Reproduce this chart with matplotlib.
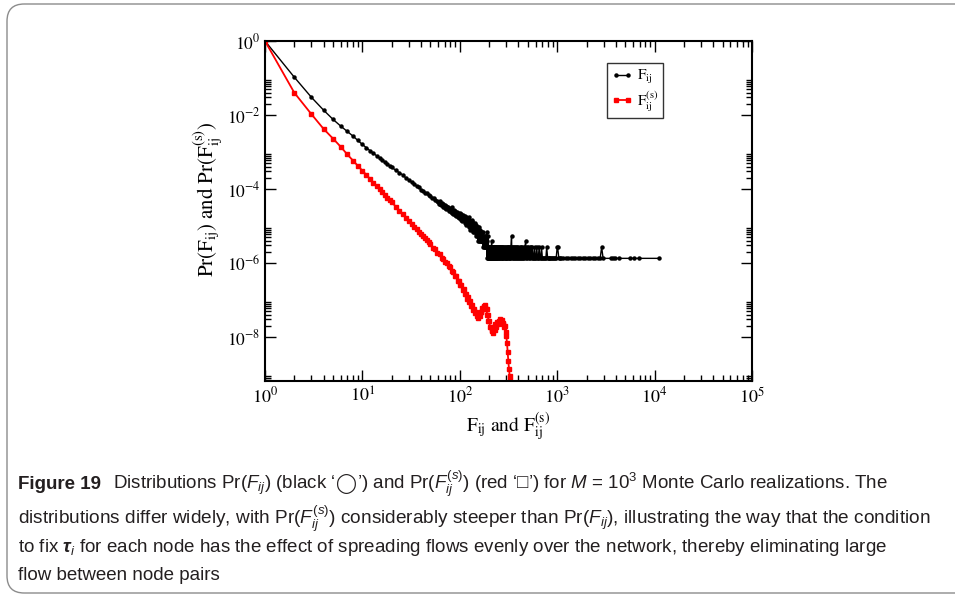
import matplotlib
matplotlib.use('Agg')
import matplotlib.pyplot as plt
from matplotlib.patches import FancyBboxPatch
from matplotlib.ticker import FixedLocator, NullFormatter

# ---- data ----
# black: Pr(F_ij), head part as probabilities
blk_x = [1, 2, 3, 4, 5, 6, 7, 8, 9, 10, 11, 12, 13, 14, 15, 16, 17, 18, 19,
         20, 22, 24, 26, 28, 30, 32, 34, 36, 38, 40, 42, 44, 46, 48, 50,
         52, 54, 56, 58]
blk_y = [1.0, 0.105, 0.030, 0.0135, 7.6e-3, 5.0e-3, 3.6e-3, 2.7e-3, 2.05e-3,
         1.6e-3, 1.3e-3, 1.08e-3, 9.2e-4, 7.9e-4, 6.9e-4, 6.0e-4, 5.3e-4,
         4.7e-4, 4.25e-4, 3.9e-4, 3.2e-4, 2.75e-4, 2.4e-4, 1.98e-4, 1.76e-4,
         1.52e-4, 1.39e-4, 1.2e-4, 1.11e-4, 9.7e-5, 9.1e-5, 8.0e-5, 7.6e-5,
         6.7e-5, 6.5e-5, 5.7e-5, 5.6e-5, 4.9e-5, 4.8e-5]

# black tail, counts per F (one count = unit probability)
unit_pr = 1.34e-6
tail_x = list(range(60, 201))
tail_counts = [33, 29, 35, 30, 27, 31, 28, 24, 29, 26,
               27, 23, 26, 22, 25, 21, 24, 19, 23, 20,
               22, 18, 21, 24, 17, 19, 16, 20, 18, 15,
               19, 16, 14, 18, 15, 17, 13, 16, 12, 15,
               17, 12, 14, 11, 16, 13, 10, 14, 12, 15,
               11, 13, 9, 14, 10, 12, 8, 13, 11, 9,
               12, 8, 10, 13, 7, 11, 9, 6, 10, 8,
               9, 7, 11, 6, 8, 10, 5, 9, 7, 6,
               8, 5, 9, 6, 7, 4, 8, 6, 5, 7,
               6, 4, 7, 5, 3, 6, 5, 4, 7, 3,
               5, 4, 3, 6, 3, 5, 4, 3, 5, 3,
               4, 3, 5, 3, 2, 4, 3, 2, 4, 3,
               3, 2, 4, 2, 3, 2, 4, 3, 2, 5,
               1, 2, 3, 1, 2, 1, 4, 2, 1, 2, 1]

floor_x = [202, 203, 204, 206, 207, 208, 209, 211, 212, 213, 214, 216, 217,
           218, 219, 221, 222, 223, 225, 226, 228, 229, 230, 232, 233, 235,
           236, 238, 240, 241, 243, 245, 246, 249, 251, 252, 255, 257, 259,
           261, 263, 266, 268, 270, 273, 274, 278, 280, 283, 286, 288, 292,
           295, 297, 300, 303, 306, 309, 312, 315, 318, 321, 325, 328, 331,
           335, 340, 342, 346, 350, 354, 358, 362, 367, 371, 376, 380, 385,
           390, 395, 400, 405, 411, 416, 422, 428, 434, 440, 446, 453, 460,
           466, 475, 480, 487, 495, 503, 511, 520, 528, 537, 546, 556, 565,
           575, 585, 595, 606, 617, 628, 640, 652, 665, 677, 690, 705, 720,
           734, 750, 765, 780, 798, 815, 833, 850, 870, 890, 910, 930, 952,
           975, 1000, 1010, 1040, 1070, 1100, 1160, 1230, 1300, 1370, 1450,
           1540, 1630, 1720, 1820, 1930, 2050, 2180, 2320, 2460, 2600, 2760,
           2860, 2960, 3550, 3750, 3950, 4300, 5600, 6100, 6900, 11100]
floor_counts = [2, 1, 2, 1, 2, 1, 2, 1, 3, 1, 2, 1, 2,
                1, 2, 1, 2, 1, 1, 2, 1, 2, 1, 2, 1, 2,
                1, 2, 1, 2, 1, 2, 1, 2, 1, 2, 1, 2, 1,
                2, 1, 2, 1, 2, 1, 2, 1, 2, 1, 2, 1, 2,
                1, 2, 1, 2, 1, 2, 1, 2, 1, 2, 1, 2, 1,
                2, 4, 1, 2, 1, 2, 1, 2, 1, 2, 1, 2, 1,
                2, 1, 2, 1, 2, 1, 2, 1, 2, 1, 1, 2, 1,
                2, 3, 1, 2, 1, 2, 1, 2, 1, 2, 1, 2, 1,
                1, 2, 1, 1, 2, 1, 1, 2, 1, 1, 2, 1, 1,
                1, 1, 1, 2, 1, 1, 1, 1, 1, 1, 1, 1, 1,
                1, 2, 2, 1, 1, 1, 1, 1, 1, 1, 1,
                1, 1, 1, 1, 1, 1, 1, 1, 1, 1, 1,
                2, 1, 1, 1, 1, 1, 1, 1, 1, 1]

# red: Pr(F_ij^(s))
red_x = [1, 2, 3, 4, 5, 6, 7, 8, 9, 10, 11, 12, 13, 14, 15, 16, 17, 18, 19,
         20, 22, 24, 26, 28, 30, 32, 34, 36, 38, 40, 42, 44, 46, 48, 50,
         53, 56, 59, 62, 65, 68, 71, 74, 77, 80, 83, 86, 89, 92, 95, 98,
         101, 104, 107, 110, 113, 116, 119, 122, 125, 128, 131, 134, 137,
         140, 143, 146, 149, 152, 155, 158, 161, 164, 167, 170, 173, 176,
         179, 182, 185, 188, 191, 194, 197, 200, 204, 208, 212, 216, 220,
         224, 228, 232, 236, 240, 245, 250, 255, 260, 265, 270, 275, 280,
         285, 290, 295, 300, 305, 310, 315, 320, 325, 330]
red_y = [1.0, 0.040, 0.0105, 4.2e-3, 2.3e-3, 1.38e-3, 8.6e-4, 5.9e-4, 4.2e-4,
         3.13e-4, 2.4e-4, 1.86e-4, 1.48e-4, 1.2e-4, 9.9e-5, 8.3e-5, 7.0e-5,
         5.9e-5, 5.1e-5, 4.4e-5, 3.36e-5, 2.62e-5, 2.09e-5, 1.69e-5, 1.39e-5,
         1.16e-5, 9.7e-6, 8.3e-6, 7.1e-6, 6.1e-6, 5.35e-6, 4.7e-6, 4.13e-6,
         3.66e-6, 3.26e-6, 2.6e-6, 2.4e-6, 1.9e-6, 1.75e-6, 1.40e-6, 1.32e-6,
         1.05e-6, 1.02e-6, 8.2e-7, 8.0e-7, 6.1e-7, 5.9e-7, 4.5e-7, 4.4e-7,
         3.3e-7, 3.3e-7, 2.5e-7, 2.55e-7, 1.9e-7, 1.98e-7, 1.45e-7, 1.5e-7,
         1.1e-7, 1.18e-7, 8.7e-8, 9.3e-8, 6.8e-8, 7.3e-8, 5.4e-8, 5.9e-8,
         4.4e-8, 4.8e-8, 3.6e-8, 4.0e-8, 3.2e-8, 3.9e-8, 3.8e-8, 4.9e-8,
         4.7e-8, 6.2e-8, 5.6e-8, 7.1e-8, 6.3e-8, 7.2e-8, 5.8e-8, 5.6e-8,
         4.0e-8, 4.0e-8, 2.8e-8, 2.8e-8, 1.9e-8, 1.9e-8, 1.45e-8, 1.6e-8,
         1.3e-8, 1.7e-8, 1.6e-8, 2.2e-8, 1.9e-8, 2.6e-8, 2.2e-8, 2.8e-8,
         2.4e-8, 3.0e-8, 2.5e-8, 2.9e-8, 2.3e-8, 2.4e-8, 1.9e-8, 2.0e-8,
         1.4e-8, 1.1e-8, 7e-9, 4e-9, 2.2e-9, 1.4e-9, 9e-10, 7e-10]

x_ticks = [1, 10, 100, 1000, 10000, 100000]
x_labels = ['$10^{0}$', '$10^{1}$', '$10^{2}$', '$10^{3}$', '$10^{4}$', '$10^{5}$']
y_ticks = [1, 1e-2, 1e-4, 1e-6, 1e-8]
y_labels = ['$10^{0}$', '$10^{-2}$', '$10^{-4}$', '$10^{-6}$', '$10^{-8}$']

# first caption line is split so the circle can come from DejaVu Sans
caption_1 = [r'Distributions Pr($F_{ij}$) (black ‘', '◯',
             r'’) and Pr($F_{ij}^{(s)}$) (red ‘□’) for $M$ = 10$^{3}$ Monte Carlo realizations. The']
caption = [
    r'distributions differ widely, with Pr($F_{ij}^{(s)}$) considerably steeper than Pr($F_{ij}$), illustrating the way that the condition',
    r'to fix $\mathbfit{\tau}_i$ for each node has the effect of spreading flows evenly over the network, thereby eliminating large',
    'flow between node pairs',
]

plt.rcParams['mathtext.fontset'] = 'custom'
plt.rcParams['mathtext.rm'] = 'Liberation Sans'
plt.rcParams['mathtext.it'] = 'Liberation Sans:italic'
plt.rcParams['mathtext.bf'] = 'Liberation Sans:bold'
plt.rcParams['mathtext.bfit'] = 'Liberation Sans:italic:bold'
plt.rcParams['mathtext.fallback'] = 'stixsans'

W, H = 955, 596
fig = plt.figure(figsize=(W / 100, H / 100), dpi=100)

def fx(px):
    return px / W

def fy(py):
    return 1 - py / H

# rounded frame around figure + caption
frame = FancyBboxPatch((fx(7), fy(593)), fx(990) - fx(7), fy(4) - fy(593),
                       boxstyle='round,pad=0,rounding_size=0.018',
                       transform=fig.transFigure, fc='none', ec='#8c8c8c', lw=1.0,
                       mutation_aspect=W / H)
fig.patches.append(frame)

ax = fig.add_axes([fx(265), fy(381), (752 - 265) / W, (381 - 41) / H])

tx = tail_x + floor_x
ty = [c * unit_pr for c in tail_counts + floor_counts]

ax.plot(blk_x + tx, blk_y + ty, color='black', lw=1.0, marker='o', ms=2.2,
        mec='black', mfc='black', label=r'$\mathrm{F_{ij}}$')
ax.plot(red_x, red_y, color='red', lw=1.3, marker='s', ms=2.4,
        mec='red', mfc='red', label=r'$\mathrm{F_{ij}^{(s)}}$')

ax.set_xscale('log')
ax.set_yscale('log')
ax.set_xlim(1, 1e5)
ax.set_ylim(6.5e-10, 1)

ax.xaxis.set_major_locator(FixedLocator(x_ticks))
ax.xaxis.set_minor_locator(FixedLocator([k * 10 ** d for d in range(5) for k in range(2, 10)]))
ax.yaxis.set_major_locator(FixedLocator(y_ticks))
ax.yaxis.set_minor_locator(FixedLocator([k * 10.0 ** (-2 * n) for n in range(1, 6) for k in range(2, 10)]))
ax.xaxis.set_minor_formatter(NullFormatter())
ax.yaxis.set_minor_formatter(NullFormatter())
ax.set_xticklabels(x_labels, fontsize=13, math_fontfamily='stix')
ax.set_yticklabels(y_labels, fontsize=12.5, math_fontfamily='stix')

ax.tick_params(which='both', direction='in', top=True, right=True, width=1.0)
ax.tick_params(which='major', length=8, pad=4)
ax.tick_params(which='minor', length=4)
ax.tick_params(axis='y', which='major', pad=3)
for s in ax.spines.values():
    s.set_linewidth(1.5)

ax.set_xlabel(r'$\mathrm{F_{ij}\ and\ F_{ij}^{(s)}}$', fontsize=14,
              math_fontfamily='stix', labelpad=3)
fig.text(fx(208), fy(199), r'$\mathrm{Pr(F_{ij})\ and\ Pr(F_{ij}^{(s)})}$',
         fontsize=15, math_fontfamily='stix', rotation=90,
         ha='center', va='center')

leg = ax.legend(loc='upper left', bbox_to_anchor=(0.7016, 0.934), numpoints=2,
                handlelength=1.4, handletextpad=0.3, borderpad=0.3,
                labelspacing=0.2, fancybox=False, frameon=True, borderaxespad=0,
                prop={'size': 11})
leg.get_frame().set_edgecolor('black')
leg.get_frame().set_linewidth(1.0)
for t in leg.get_texts():
    t.set_math_fontfamily('stix')

# caption
cap_font = ['Liberation Sans', 'DejaVu Sans']
ink = '#231f20'
fig.text(fx(18), fy(489), 'Figure 19', fontsize=13.5, fontweight='bold',
         family=cap_font, va='baseline', color=ink)

renderer = fig.canvas.get_renderer()
x0 = 113
for i, seg in enumerate(caption_1):
    fam = ['DejaVu Sans'] if i == 1 else cap_font
    t = fig.text(fx(x0), fy(489), seg, fontsize=13.5, family=fam,
                 va='baseline', color=ink)
    x0 += t.get_window_extent(renderer).width

for k, line in enumerate(caption):
    fig.text(fx(18), fy([524, 552, 580][k]), line,
             fontsize=[13.7, 13.5, 13.5][k], family=cap_font,
             va='baseline', color=ink)

fig.savefig('out.png', dpi=100)
